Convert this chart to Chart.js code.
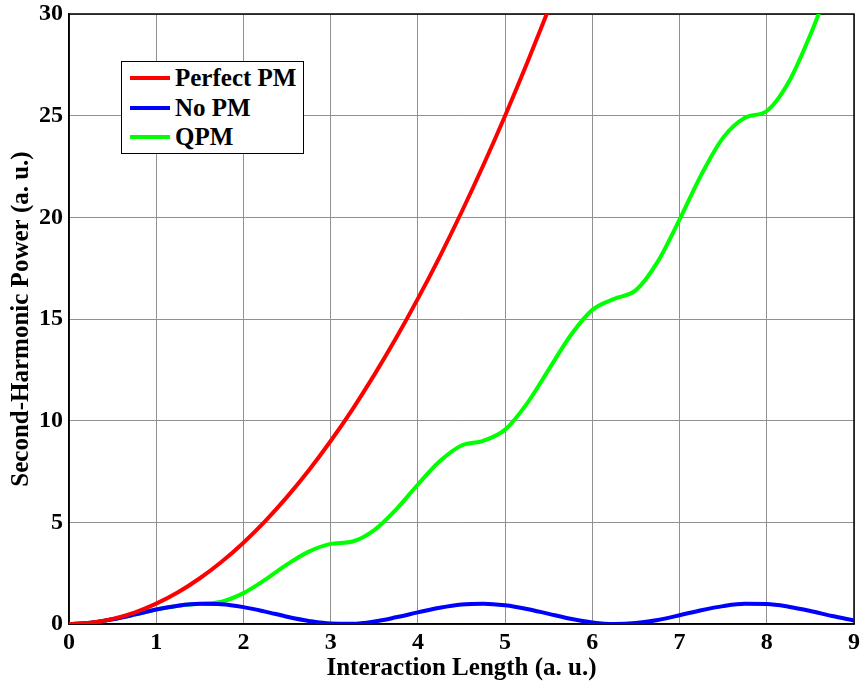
<!DOCTYPE html>
<html>
<head>
<meta charset="utf-8">
<script src="https://cdn.jsdelivr.net/npm/chart.js@4"></script>
<style>
  html, body { margin: 0; padding: 0; background: #fff; }
  #wrap { position: relative; width: 863px; height: 684px; }
  #legendBox {
    position: absolute; left: 121px; top: 61px; width: 181px; height: 91px;
    border: 1px solid #000; background: #fff;
    font: bold 25px "Liberation Serif", "Times New Roman", serif; color: #000;
  }
  .row { position: absolute; left: 0; height: 30px; line-height: 30px; white-space: nowrap; }
  .swatch { position: absolute; left: 8px; top: 13px; width: 40px; height: 4px; }
  .label { position: absolute; left: 53px; top: 0; }
</style>
</head>
<body>
<div id="wrap">
  <canvas id="chart" width="863" height="684"></canvas>
  <div id="legendBox"></div>
</div>
<script>
// Interaction length samples (a. u.)
const xs = [0, 0.25, 0.5, 0.75, 1, 1.25, 1.5, 1.75, 2, 2.25, 2.5, 2.75, 3, 3.25, 3.5, 3.75,
  4, 4.25, 4.5, 4.75, 5, 5.25, 5.5, 5.75, 6, 6.25, 6.5, 6.75, 7, 7.25, 7.5, 7.75,
  8, 8.25, 8.5, 8.75, 9];

// Second-harmonic power
const perfectPM = [0, 0.06, 0.25, 0.56, 1, 1.56, 2.25, 3.06, 4, 5.06, 6.25, 7.56,
  9, 10.56, 12.25, 14.06, 16, 18.06, 20.25, 22.56, 25, 27.56, 30.25];

const noPM = [0, 0.06, 0.23, 0.46, 0.71, 0.9, 0.99, 0.97, 0.83, 0.61, 0.36, 0.15,
  0.02, 0.01, 0.12, 0.33, 0.57, 0.8, 0.96, 1, 0.92, 0.74, 0.5, 0.26, 0.08, 0,
  0.05, 0.2, 0.43, 0.68, 0.88, 0.99, 0.98, 0.85, 0.64, 0.39, 0.17];

const qpm = [0, 0.06, 0.23, 0.46, 0.71, 0.9, 0.99, 1.1, 1.52, 2.18, 2.93, 3.56,
  3.94, 4.06, 4.62, 5.63, 6.86, 8.0, 8.78, 9.01, 9.56, 10.84, 12.51, 14.19, 15.45, 15.99,
  16.42, 17.82, 19.89, 22.1, 23.92, 24.9, 25.23, 26.64, 28.98, 31.71, 34.13];

const seriesNames = ['Perfect PM', 'No PM', 'QPM'];
const seriesColors = ['#ff0000', '#0000ff', '#00ff00'];

const xTicks = [0, 1, 2, 3, 4, 5, 6, 7, 8, 9];
const yTicks = [0, 5, 10, 15, 20, 25, 30];

function toPoints(values) {
  return values.map((v, i) => ({ x: xs[i], y: v }));
}

const fontFamily = '"Liberation Serif", "Times New Roman", serif';

// Draws the full box around the plot area (MATLAB style)
const boxPlugin = {
  id: 'boxPlugin',
  beforeDatasetsDraw(chart) {
    const a = chart.chartArea;
    const ctx = chart.ctx;
    ctx.save();
    ctx.strokeStyle = '#000';
    ctx.lineWidth = 1.5;
    ctx.strokeRect(a.left, a.top, a.right - a.left, a.bottom - a.top);
    ctx.restore();
  }
};

const allSeries = [perfectPM, noPM, qpm];

new Chart(document.getElementById('chart'), {
  type: 'line',
  data: {
    datasets: allSeries.map((vals, i) => ({
      label: seriesNames[i],
      data: toPoints(vals),
      borderColor: seriesColors[i],
      backgroundColor: seriesColors[i],
      borderWidth: 4,
      pointRadius: 0,
      fill: false,
      cubicInterpolationMode: 'monotone'
    }))
  },
  options: {
    responsive: false,
    animation: false,
    layout: { padding: { top: 14, right: 9, left: 0, bottom: 0 } },
    plugins: {
      legend: { display: false },
      tooltip: { enabled: false }
    },
    scales: {
      x: {
        type: 'linear',
        min: 0,
        max: 9,
        afterBuildTicks: (scale) => { scale.ticks = xTicks.map(v => ({ value: v })); },
        afterFit: (scale) => {
          scale.height = 60;
          scale.paddingLeft = 0;
          scale.paddingRight = 0;
        },
        ticks: {
          color: '#000',
          padding: 4,
          font: { family: fontFamily, size: 24, weight: 'bold' }
        },
        grid: { color: '#909090', lineWidth: 1, drawTicks: false },
        border: { display: true, color: '#000', width: 1.5 },
        title: {
          display: true,
          text: 'Interaction Length (a. u.)',
          color: '#000',
          padding: { top: 1, bottom: 0 },
          font: { family: fontFamily, size: 25, weight: 'bold' }
        }
      },
      y: {
        type: 'linear',
        min: 0,
        max: 30,
        afterBuildTicks: (scale) => { scale.ticks = yTicks.map(v => ({ value: v })); },
        afterFit: (scale) => {
          scale.width = 69;
          scale.paddingTop = 0;
          scale.paddingBottom = 0;
        },
        ticks: {
          color: '#000',
          padding: 6,
          font: { family: fontFamily, size: 24, weight: 'bold' }
        },
        grid: { color: '#909090', lineWidth: 1, drawTicks: false },
        border: { display: true, color: '#000', width: 1.5 },
        title: {
          display: true,
          text: 'Second-Harmonic Power (a. u.)',
          color: '#000',
          padding: { top: 7, bottom: 0 },
          font: { family: fontFamily, size: 25, weight: 'bold' }
        }
      }
    }
  },
  plugins: [boxPlugin]
});

// Legend box, built from the series names and colours
const legendBox = document.getElementById('legendBox');
seriesNames.forEach((name, i) => {
  const row = document.createElement('div');
  row.className = 'row';
  row.style.top = (1 + i * 29.5) + 'px';
  row.style.width = '100%';
  const sw = document.createElement('span');
  sw.className = 'swatch';
  sw.style.background = seriesColors[i];
  const lb = document.createElement('span');
  lb.className = 'label';
  lb.textContent = name;
  row.appendChild(sw);
  row.appendChild(lb);
  legendBox.appendChild(row);
});
</script>
</body>
</html>
